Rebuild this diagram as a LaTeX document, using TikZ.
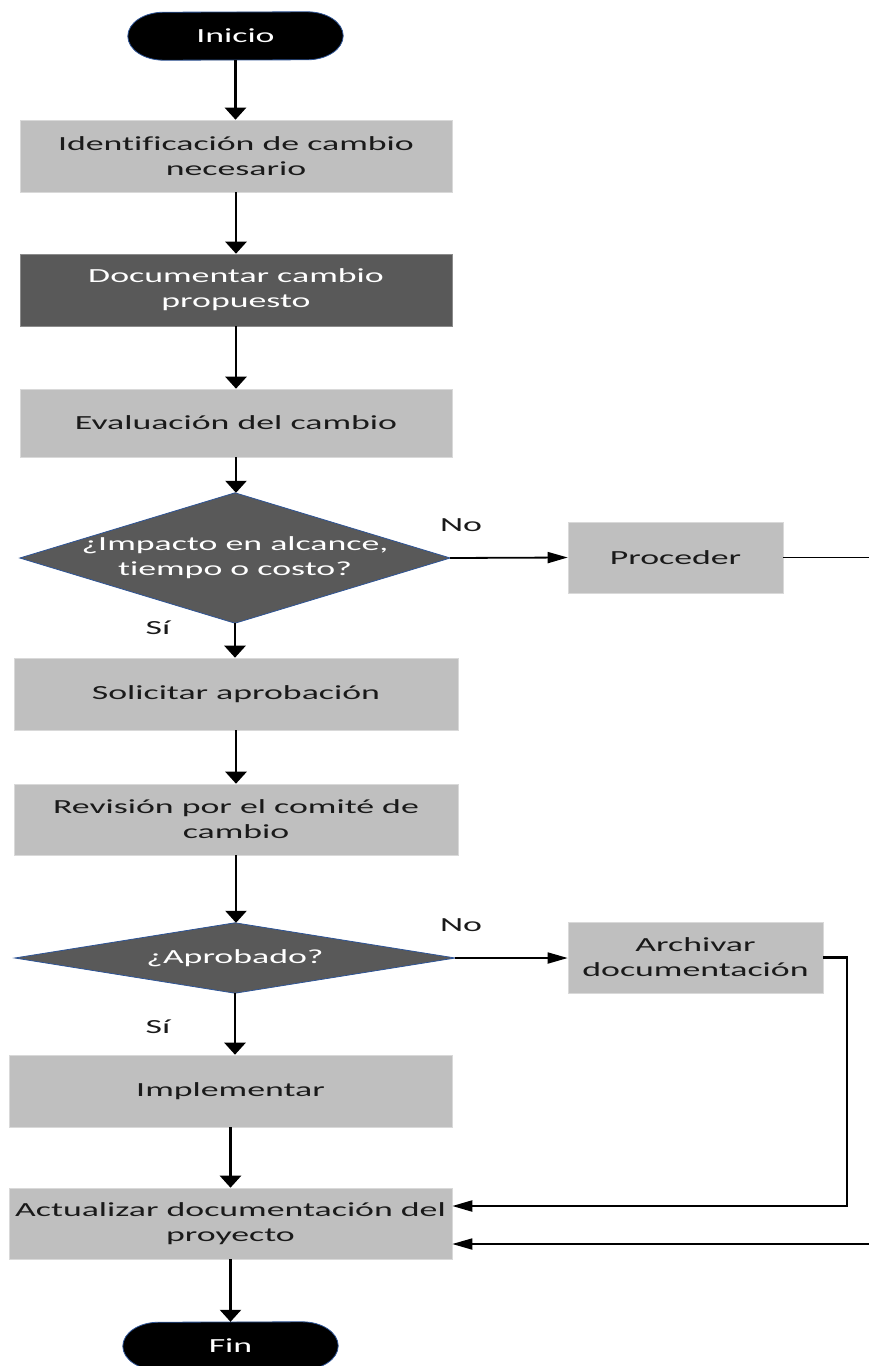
\documentclass[tikz,border=0pt]{standalone}
\usepackage{fontspec}
\setmainfont[FakeStretch=1.79,Ligatures=NoCommon]{Carlito}
\usetikzlibrary{arrows.meta,calc,backgrounds}
\definecolor{boxlight}{HTML}{BFBFBF}
\definecolor{boxdark}{HTML}{595959}
\definecolor{edgeblue}{HTML}{2F5597}
\definecolor{ink}{HTML}{1A1A1A}
\tikzset{
  base/.style={font=\fontsize{20}{25}\selectfont, align=center, inner sep=0pt},
  procbox/.style={base, rectangle, fill=boxlight, draw=boxlight!60!white, line width=0.6pt, text=ink},
  darkbox/.style={procbox, fill=boxdark, draw=boxdark!70!white, text=white},
  decision/.style={base, rectangle, text=white},
  terminal/.style={base, rectangle, text=white, minimum width=215pt, minimum height=48pt},
  lbl/.style={base, text=ink},
  vflow/.style={line width=2.6pt, -{Triangle[width=21pt,length=12pt]}},
  hflow/.style={line width=1.8pt, -{Triangle[width=11pt,length=20pt]}},
  hline/.style={line width=1.8pt},
  dshape/.style={fill=boxdark, draw=edgeblue, line width=0.8pt},
  tshape/.style={fill=black, draw=edgeblue, line width=0.8pt},
}
\begin{document}
\begin{tikzpicture}[x=1pt,y=-1pt]
\useasboundingbox (0,0) rectangle (869,1366);

% terminals
\node[terminal] (inicio) at (235.5,36) {Inicio};
\node[terminal] (fin) at (230.5,1346) {Fin};

% process boxes
\node[procbox, minimum width=432pt, minimum height=72pt] (ident) at (236,156) {Identificación de cambio\\necesario};
\node[darkbox, minimum width=432pt, minimum height=72pt] (docu) at (236,290) {Documentar cambio\\propuesto};
\node[procbox, minimum width=432pt, minimum height=68pt] (eval) at (236,423) {Evaluación del cambio};
\node[decision, minimum width=430pt, minimum height=130pt] (imp) at (235,558) {¿Impacto en alcance,\\tiempo o costo?};
\node[procbox, minimum width=215pt, minimum height=71pt] (proc) at (675.5,557.5) {Proceder};
\node[procbox, minimum width=444pt, minimum height=72pt] (sol) at (236,694) {Solicitar aprobación};
\node[procbox, minimum width=444pt, minimum height=71pt] (rev) at (236,819.5) {Revisión por el comité de\\cambio};
\node[decision, minimum width=440pt, minimum height=70pt] (apr) at (235,958) {¿Aprobado?};
\node[procbox, minimum width=255pt, minimum height=71pt] (arch) at (695.5,957.5) {Archivar\\documentación};
\node[procbox, minimum width=443pt, minimum height=72pt] (impl) at (230.5,1091) {Implementar};
\node[procbox, minimum width=443pt, minimum height=71pt] (act) at (230.5,1223.5) {Actualizar documentación del\\proyecto};

% branch labels
\node[lbl] (no1) at (461,525) {No};
\node[lbl] (si1) at (158,628) {Sí};
\node[lbl] (no2) at (461,925) {No};
\node[lbl] (si2) at (158,1027) {Sí};

% shapes drawn behind the text
\begin{pgfonlayer}{background}
  \path[tshape] ($(inicio.north east)+(-36pt,0)$) arc[start angle=90,end angle=-90,x radius=36pt,y radius=24pt]
     -- ($(inicio.south west)+(36pt,0)$) arc[start angle=270,end angle=90,x radius=36pt,y radius=24pt] -- cycle;
  \path[tshape] ($(fin.north east)+(-36pt,0)$) arc[start angle=90,end angle=-90,x radius=36pt,y radius=24pt]
     -- ($(fin.south west)+(36pt,0)$) arc[start angle=270,end angle=90,x radius=36pt,y radius=24pt] -- cycle;
  \path[dshape] (imp.north) -- (imp.east) -- (imp.south) -- (imp.west) -- cycle;
  \path[dshape] (apr.north) -- (apr.east) -- (apr.south) -- (apr.west) -- cycle;
\end{pgfonlayer}

% free ends at the right border
\coordinate (outA) at (869,557.5);
\coordinate (bendB) at (847,1206);
\coordinate (outC) at (869,1244);

% main flow
\draw[vflow] (inicio.south) -- (inicio.south |- ident.north);
\draw[vflow] (ident) -- (docu);
\draw[vflow] (docu) -- (eval);
\draw[vflow] (eval.south) -- (eval.south |- imp.north);
\draw[hflow] (imp.east) -- (proc.west);
\draw[hline] (proc.east) -- (outA);
\draw[vflow] (imp.south) -- (imp.south |- sol.north);
\draw[vflow] (sol) -- (rev);
\draw[vflow] (rev.south) -- (rev.south |- apr.north);
\draw[hflow] (apr.east) -- (apr.east -| arch.west);
\draw[vflow] (apr.south) -- (apr.south |- impl.north);
\draw[vflow] (impl) -- (act);
\draw[vflow] (act) -- (fin);
\draw[line width=2.2pt, -{Triangle[width=11pt,length=20pt]}] (arch.east) -| (bendB) -- (bendB -| act.east);
\draw[hflow] (outC) -- (outC -| act.east);
\end{tikzpicture}
\end{document}
